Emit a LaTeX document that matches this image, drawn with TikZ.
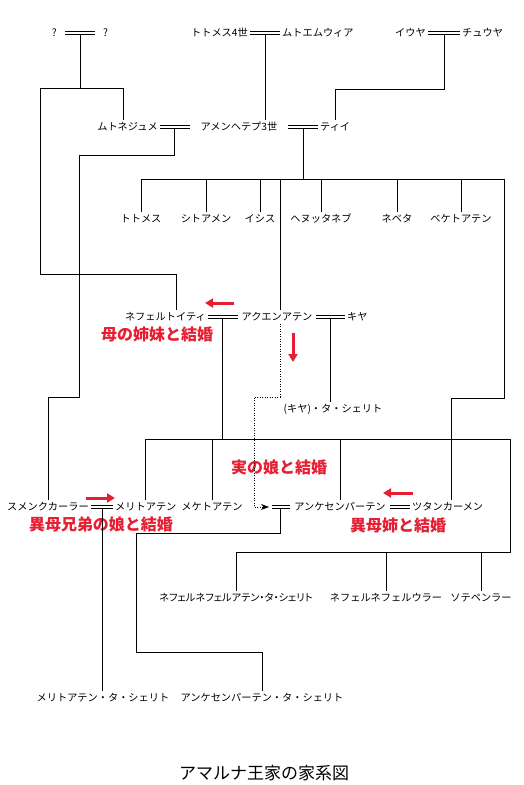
\documentclass[tikz,border=0pt]{standalone}
\usepackage{fontspec}
\newfontfamily\jp{Noto Sans CJK JP}
\newfontfamily\jpnarrow[RawFeature=+palt]{Noto Sans CJK JP}
\usetikzlibrary{arrows.meta, positioning}
\definecolor{warn}{RGB}{230,30,50}

\begin{document}
\begin{tikzpicture}[x=1pt, y=-1pt,
    who/.style={font=\jp\fontsize{10.2}{12}\selectfont, inner sep=2pt,
                text height=8pt, text depth=1pt},
    longwho/.style={who, font=\jpnarrow\fontsize{10.2}{12}\selectfont},
    remark/.style={font=\jp\bfseries\fontsize{16}{18}\selectfont, text=warn},
    wed/.style={double, double distance=2.4pt, line width=0.5pt},
    kin/.style={line width=0.9pt},
    redarrow/.style={draw=warn, line width=3pt, -{Triangle[length=8pt, width=9pt]}}
  ]
    \useasboundingbox (0,0) rectangle (524,785);

    \node[who, anchor=east, inner xsep=8pt] (q1) at (65,33) {?};
    \node[who, anchor=west, inner xsep=8pt] (q2) at (95,33) {?};
    \node[who, anchor=east] (tut4)  at (250,33) {トトメス4世};
    \node[who, anchor=west] (mutem) at (280,33) {ムトエムウィア};
    \node[who, anchor=east] (yuya)  at (428,33) {イウヤ};
    \node[who, anchor=west] (tjuyu) at (460,33) {チュウヤ};

    \node[who, anchor=east] (mutn) at (160,127) {ムトネジュメ};
    \node[who, minimum width=98pt] (amen) at (239,127) {アメンヘテプ3世};
    \node[who, anchor=west] (tiye) at (318,127) {ティイ};

    \node[who] (tuth) at (141,219) {トトメス};
    \node[who] (sita) at (206,219) {シトアメン};
    \node[who] (isis) at (260,219) {イシス};
    \node[who] (henu) at (321,219) {ヘヌッタネブ};
    \node[who] (nebe) at (397,219) {ネベタ};
    \node[who] (beke) at (461,219) {ベケトアテン};

    \node[who, anchor=east] (nef) at (208,317) {ネフェルトイティ};
    \node[who, minimum width=78pt] (akh) at (277,317) {アクエンアテン};
    \node[who, anchor=west] (kiya) at (345,317) {キヤ};
    \node[who] (kiyad) at (333,409) {(キヤ)・タ・シェリト};

    \node[who, anchor=east] (smen) at (91,507) {スメンクカーラー};
    \node[who, anchor=west] (merit) at (113,507) {メリトアテン};
    \node[who] (meke) at (212,507) {メケトアテン};
    \coordinate (ankhw) at (272,507);
    \node[who, minimum width=100pt] (ankh) at (340,507) {アンケセンパーテン};
    \node[who, anchor=west] (tut) at (410,507) {ツタンカーメン};

    \node[longwho] (nnat) at (236,598) {ネフェルネフェルアテン・タ・シェリト};
    \node[who] (nnu)  at (386,598) {ネフェルネフェルウラー};
    \node[who] (sote) at (481,598) {ソテペンラー};

    \node[who] (meritd) at (103,698) {メリトアテン・タ・シェリト};
    \node[who] (ankhd)  at (262,698) {アンケセンパーテン・タ・シェリト};

    \node[font=\jp\fontsize{17}{20}\selectfont] (title) at (264,773) {アマルナ王家の家系図};

    \node[remark] (aunt)   at (157,334) {母の姉妹と結婚};
    \node[remark] (daught) at (279,467) {実の娘と結婚};
    \node[remark] (cousin) at (101,524) {異母兄弟の娘と結婚};
    \node[remark] (sister) at (398,525) {異母姉と結婚};

    \draw[wed] (q1) -- coordinate (qq) (q2);
    \draw[wed] (tut4) -- coordinate (tm) (mutem);
    \draw[wed] (yuya) -- coordinate (yt) (tjuyu);
    \draw[wed] (mutn) -- coordinate (ma) (amen);
    \draw[wed] (amen) -- coordinate (at) (tiye);
    \draw[wed] (nef) -- coordinate (na) (akh);
    \draw[wed] (akh) -- coordinate (ak) (kiya);
    \draw[wed] (smen) -- coordinate (sm) (merit);
    \draw[wed] (ankhw) -- coordinate (aa) (ankh);
    \draw[wed] (ankh) -- (tut);

    \coordinate (akhtop) at ([xshift=3pt]akh.north);
    \coordinate (akhbot) at ([xshift=3pt]akh.south);

    \draw[kin] ([yshift=-1.5pt]qq) -- ++(0,54) coordinate (qb);
    \draw[kin] (qb) -| ([xshift=-4pt]mutn.north);
    \draw[kin] (qb) -| (40,274) -| ([xshift=11pt]nef.north);
    \draw[kin] ([yshift=-1.5pt]tm) -- (tm |- amen.north);
    \draw[kin] ([yshift=-1.5pt]yt) -- ++(0,55) -| (tiye.north);
    \draw[kin] ([yshift=-1.5pt]ma) -- ++(0,27) -| (79,397) -| (smen.north);

    \draw[kin] ([yshift=-1.5pt]at) -- ++(0,50.5) coordinate (row1);
    \draw[kin] (tuth.north |- row1) -- (504,179) -- (504,398) -| ([xshift=4pt]tut.north);
    \foreach \k in {tuth,sita,isis,henu,nebe,beke}
      \draw[kin] (\k.north |- row1) -- (\k.north);
    \draw[kin] (akhtop |- row1) -- (akhtop);

    \draw[kin] ([yshift=-1.5pt]na) -- ++(0,120.5) coordinate (row2);
    \draw[kin] (merit.north |- row2) -- (510,439) -- (510,552) coordinate (row3) -| (nnat.north);
    \foreach \k in {merit,meke,ankh}
      \draw[kin] (\k.north |- row2) -- (\k.north);
    \foreach \k in {nnu,sote}
      \draw[kin] (\k.north |- row3) -- (\k.north);

    \draw[kin] ([yshift=-1.5pt]ak) -- (ak |- kiyad.north);
    \draw[kin] ([yshift=-1.5pt]sm) -- (sm |- meritd.north);
    \draw[kin] ([yshift=-1.5pt]aa) -- ++(0,24.5) -| (136,652) -| (ankhd.north);

    \draw[line width=0.7pt, dash pattern=on 1pt off 1.5pt, -{Stealth[length=8pt, width=6pt]}]
      (akhbot) |- (254,397) |- ([xshift=-3pt]ankhw);

    \draw[redarrow] (234,303) -- (205,303);
    \draw[redarrow] (293,333) -- (293,362);
    \draw[redarrow] (86,498) -- (115,498);
    \draw[redarrow] (413,493) -- (383,493);
  \end{tikzpicture}
\end{document}
